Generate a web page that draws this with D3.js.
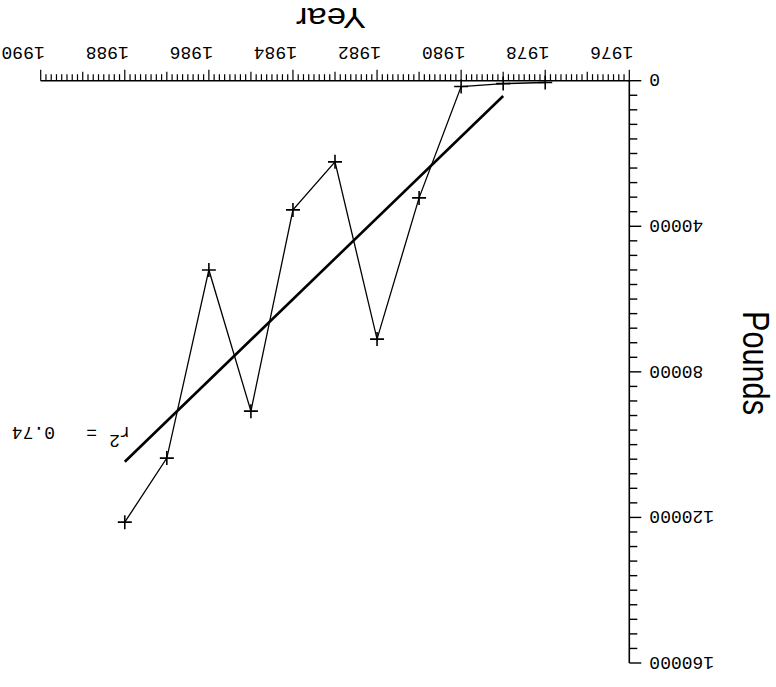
<!DOCTYPE html>
<html>
<head>
<meta charset="utf-8">
<script src="https://cdn.jsdelivr.net/npm/d3@7"></script>
<style>
  html, body { margin: 0; padding: 0; background: #fff; }
  svg { display: block; }
  .tick-label { font-family: "Liberation Mono", "DejaVu Sans Mono", monospace; font-size: 18px; fill: #000; }
  .axis-title { font-family: "Liberation Sans", Arial, sans-serif; fill: #000; }
</style>
</head>
<body>
<script>
// Annual catch in pounds, with a least-squares trend line
const years = [1978, 1979, 1980, 1981, 1982, 1983, 1984, 1985, 1986, 1987, 1988];
const pounds = [500, 800, 1600, 32200, 71000, 22300, 35500, 90800, 52000, 103700, 121300];

// trend line end points
const fitYears = [1979, 1988];
const fitPounds = [4200, 104700];
const rSquared = "0.74";

const xTicks = [1976, 1978, 1980, 1982, 1984, 1986, 1988, 1990];
const yTicks = [0, 40000, 80000, 120000, 160000];

const W = 776, H = 687;

const svg = d3.select("body").append("svg")
  .attr("width", W).attr("height", H);

svg.append("rect").attr("width", W).attr("height", H).attr("fill", "#fff");

// the whole plot is drawn turned half a revolution
const g = svg.append("g").attr("transform", `rotate(180, ${W / 2}, ${H / 2})`);

const x = d3.scaleLinear().domain([1976, 1990]).range([146.7, 735.3]);
const y = d3.scaleLinear().domain([0, 160000]).range([606.3, 24]);

// ---- x axis ----
const xAxis = g.append("g").attr("transform", `translate(0, ${y(0)})`);
xAxis.append("line")
  .attr("x1", x(1976)).attr("x2", x(1990))
  .attr("stroke", "#000").attr("stroke-width", 1.6);

const xMinor = d3.range(1976, 1990.0001, 1 / 8);
xAxis.selectAll("line.minor").data(xMinor).join("line")
  .attr("class", "minor")
  .attr("x1", d => x(d)).attr("x2", d => x(d))
  .attr("y1", 0)
  .attr("y2", d => {
    const r = Math.round(d * 8) / 8;
    if (Math.abs(r - Math.round(r)) < 1e-6) return Math.round(r) % 2 === 0 ? 11 : 9;
    return 6.5;
  })
  .attr("stroke", "#000").attr("stroke-width", 1.2);

xAxis.selectAll("text").data(xTicks).join("text")
  .attr("class", "tick-label")
  .attr("x", d => x(d) - 4)
  .attr("y", 34)
  .attr("text-anchor", "start")
  .text(d => d);

// ---- y axis ----
const yAxis = g.append("g").attr("transform", `translate(${x(1976)}, 0)`);
yAxis.append("line")
  .attr("y1", y(0)).attr("y2", y(160000))
  .attr("stroke", "#000").attr("stroke-width", 1.6);

const yMinor = d3.range(0, 160001, 4000);
yAxis.selectAll("line.minor").data(yMinor).join("line")
  .attr("class", "minor")
  .attr("y1", d => y(d)).attr("y2", d => y(d))
  .attr("x1", 0)
  .attr("x2", d => d % 40000 === 0 ? -12 : -8)
  .attr("stroke", "#000").attr("stroke-width", 1.4);

yAxis.selectAll("text").data(yTicks).join("text")
  .attr("class", "tick-label")
  .attr("x", -20)
  .attr("y", d => y(d))
  .attr("dy", "0.35em")
  .attr("text-anchor", "end")
  .text(d => d);

// ---- axis titles ----
g.append("text").attr("class", "axis-title")
  .attr("x", 445).attr("y", 679)
  .attr("text-anchor", "middle")
  .attr("font-size", 30)
  .attr("textLength", 70).attr("lengthAdjust", "spacingAndGlyphs")
  .text("Year");

g.append("text").attr("class", "axis-title")
  .attr("transform", `translate(33, 324) rotate(-90)`)
  .attr("text-anchor", "middle")
  .attr("font-size", 36)
  .attr("textLength", 104).attr("lengthAdjust", "spacingAndGlyphs")
  .text("Pounds");

// ---- trend line ----
g.append("line")
  .attr("x1", x(fitYears[0])).attr("y1", y(fitPounds[0]))
  .attr("x2", x(fitYears[1])).attr("y2", y(fitPounds[1]))
  .attr("stroke", "#000").attr("stroke-width", 2.6);

// ---- data series ----
const pts = years.map((yr, i) => [yr, pounds[i]]);
g.append("path")
  .datum(pts)
  .attr("d", d3.line().x(d => x(d[0])).y(d => y(d[1])))
  .attr("fill", "none").attr("stroke", "#000").attr("stroke-width", 1.3);

const m = 7;
g.selectAll("path.mark").data(pts).join("path")
  .attr("class", "mark")
  .attr("d", d => {
    const cx = x(d[0]), cy = y(d[1]);
    return `M${cx - m},${cy}H${cx + m}M${cx},${cy - m}V${cy + m}`;
  })
  .attr("stroke", "#000").attr("stroke-width", 1.6);

// ---- r squared note ----
const note = g.append("g");
note.append("text").attr("class", "tick-label")
  .attr("x", 646).attr("y", 260).text("r");
note.append("text").attr("class", "tick-label")
  .attr("x", 656).attr("y", 252).attr("font-size", 12).text("2");
note.append("text").attr("class", "tick-label")
  .attr("x", 679).attr("y", 260).text("=");
note.append("text").attr("class", "tick-label")
  .attr("x", 721).attr("y", 260).text(rSquared);
</script>
</body>
</html>
